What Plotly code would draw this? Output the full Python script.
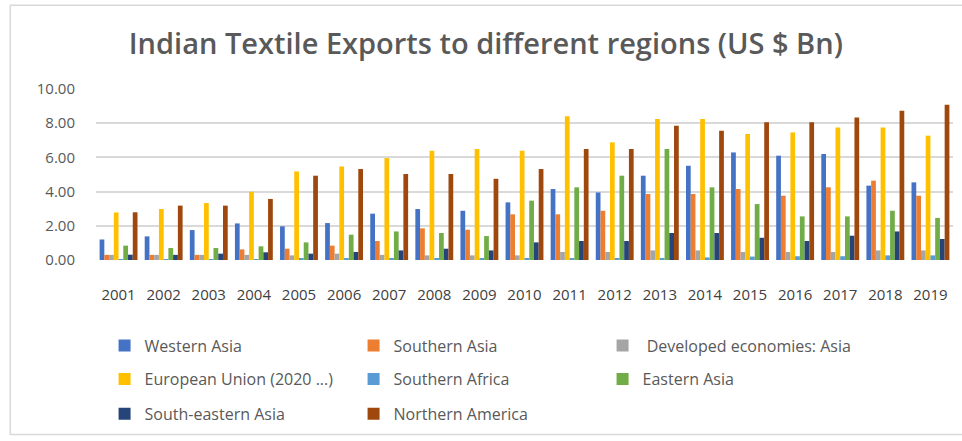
import plotly.graph_objects as go

years = [str(y) for y in range(2001, 2020)]

western_asia = [1.20, 1.38, 1.75, 2.14, 1.97, 2.16, 2.71, 2.98, 2.88, 3.37, 4.15, 3.95, 4.93, 5.51, 6.29, 6.10, 6.20, 4.35, 4.54]
southern_asia = [0.30, 0.30, 0.30, 0.62, 0.66, 0.84, 1.11, 1.85, 1.77, 2.67, 2.67, 2.88, 3.86, 3.86, 4.15, 3.76, 4.25, 4.64, 3.76]
developed_asia = [0.30, 0.30, 0.30, 0.30, 0.27, 0.37, 0.30, 0.27, 0.27, 0.27, 0.47, 0.47, 0.56, 0.56, 0.47, 0.47, 0.47, 0.56, 0.56]
european_union = [2.78, 2.98, 3.33, 3.99, 5.18, 5.47, 5.96, 6.39, 6.49, 6.39, 8.40, 6.88, 8.25, 8.25, 7.37, 7.46, 7.75, 7.75, 7.27]
southern_africa = [0.05, 0.05, 0.05, 0.05, 0.07, 0.07, 0.08, 0.08, 0.10, 0.10, 0.10, 0.10, 0.12, 0.15, 0.20, 0.22, 0.22, 0.27, 0.27]
eastern_asia = [0.84, 0.70, 0.70, 0.80, 1.03, 1.48, 1.67, 1.58, 1.40, 3.47, 4.25, 4.93, 6.49, 4.25, 3.27, 2.55, 2.55, 2.88, 2.46]
south_eastern_asia = [0.31, 0.30, 0.37, 0.45, 0.37, 0.47, 0.56, 0.66, 0.56, 1.03, 1.11, 1.11, 1.58, 1.58, 1.30, 1.11, 1.42, 1.67, 1.23]
northern_america = [2.79, 3.18, 3.18, 3.57, 4.93, 5.32, 5.03, 5.03, 4.75, 5.32, 6.49, 6.49, 7.85, 7.56, 8.05, 8.05, 8.34, 8.73, 9.08]

y_ticks = [0, 2, 4, 6, 8, 10]
y_tick_labels = ["0.00", "2.00", "4.00", "6.00", "8.00", "10.00"]

series = [
    ("Western Asia", western_asia, "#4472C4", "legend"),
    ("Southern Asia", southern_asia, "#ED7D31", "legend"),
    ("\u00a0Developed economies: Asia", developed_asia, "#A5A5A5", "legend"),
    ("European Union (2020 ...)", european_union, "#FFC000", "legend2"),
    ("Southern Africa", southern_africa, "#5B9BD5", "legend2"),
    ("Eastern Asia", eastern_asia, "#70AD47", "legend2"),
    ("South-eastern Asia", south_eastern_asia, "#264478", "legend3"),
    ("Northern America", northern_america, "#9E480E", "legend3"),
]

fig = go.Figure()
for name, vals, color, leg in series:
    fig.add_trace(go.Bar(
        x=years, y=vals, name=name, legend=leg,
        marker=dict(color=color, line=dict(width=0)),
    ))

text_color = "#595959"
legend_common = dict(
    orientation="h", entrywidth=204, entrywidthmode="pixels",
    itemwidth=30, xanchor="left", yanchor="middle",
    font=dict(family="Open Sans", size=16, color=text_color),
    bgcolor="rgba(0,0,0,0)", traceorder="normal",
)

fig.update_layout(
    width=962, height=441,
    margin=dict(l=96, r=9, t=89, b=181),
    paper_bgcolor="white", plot_bgcolor="white",
    barmode="group", bargap=0.16, bargroupgap=0,
    title=dict(
        text="Indian Textile Exports to different regions (US $ Bn)",
        x=0.505, xanchor="center", y=0.9, yanchor="middle",
        font=dict(family="Open Sans", size=29, color=text_color, weight=600),
    ),
    xaxis=dict(
        showgrid=False, showline=False, ticks="",
        tickfont=dict(family="Open Sans", size=15, color="#404040"),
        ticklabelstandoff=24,
    ),
    yaxis=dict(
        range=[0, 10], tickvals=y_ticks, ticktext=y_tick_labels,
        showgrid=True, gridcolor="#D9D9D9", gridwidth=1.5,
        zeroline=False, showline=False, ticks="",
        tickfont=dict(family="Open Sans", size=15, color=text_color),
        ticklabelstandoff=20,
    ),
    legend=dict(x=0.01, y=-0.5, **legend_common),
    legend2=dict(x=0.01, y=-0.696, **legend_common),
    legend3=dict(x=0.01, y=-0.9, **legend_common),
    showlegend=True,
    shapes=[dict(
        type="rect", xref="paper", yref="paper",
        x0=-0.1, x1=1.1, y0=-1.02, y1=1.49,
        line=dict(color="#D9D9D9", width=1.5), fillcolor="rgba(0,0,0,0)",
        layer="below",
    )],
)

fig.write_html("out.html")
